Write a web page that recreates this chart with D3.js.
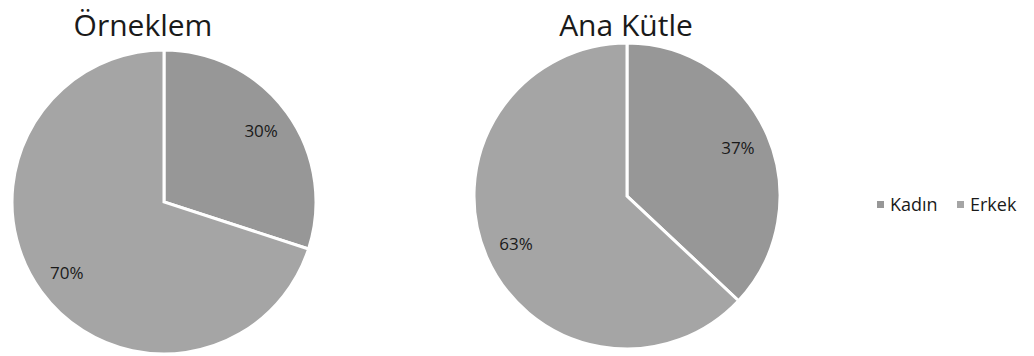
<!DOCTYPE html>
<html>
<head>
    <meta charset="utf-8">
    <style type="text/css">
        body { margin: 0; background: #fff; }
        svg { display: block; }
        text { font-family: "Open Sans", "DejaVu Sans", sans-serif; fill: #1a1a1a; }
        .title { font-size: 30px; text-anchor: middle; }
        .pct { font-size: 17px; text-anchor: middle; }
        .legend text { font-size: 18px; }
    </style>
    <script src="https://d3js.org/d3.v7.min.js"></script>
</head>
<body>
    <svg id="mySvg" width="1034" height="356"></svg>
<script type="text/javascript">
// Data
const categories = ['Kadın', 'Erkek'];
const sampleValues = [30, 70];       // Örneklem
const populationValues = [37, 63];   // Ana Kütle
const pieTitles = ['Örneklem', 'Ana Kütle'];

const svg = d3.select('#mySvg');

const sliceColors = d3.scaleOrdinal()
    .domain(categories)
    .range(['#979797', '#a5a5a5']);

// one entry per pie: center, radius, title x
const pies = [
    { title: pieTitles[0], values: sampleValues, cx: 164, cy: 202, r: 152, tx: 143 },
    { title: pieTitles[1], values: populationValues, cx: 627, cy: 196, r: 153, tx: 626 }
];

const pie = d3.pie().sort(null).value(d => d.value);

pies.forEach(p => {
    const rows = categories.map((c, i) => ({ name: c, value: p.values[i] }));
    const arc = d3.arc().innerRadius(0).outerRadius(p.r);
    const labelArc = d3.arc().innerRadius(p.r * 0.79).outerRadius(p.r * 0.79);
    const total = d3.sum(rows, d => d.value);

    const g = svg.append('g')
        .attr('transform', 'translate(' + p.cx + ',' + p.cy + ')');

    g.selectAll('path')
        .data(pie(rows))
        .enter()
        .append('path')
        .attr('d', arc)
        .attr('fill', d => sliceColors(d.data.name))
        .attr('stroke', '#fff')
        .attr('stroke-width', 3)
        .attr('stroke-linejoin', 'miter');

    g.selectAll('text.pct')
        .data(pie(rows))
        .enter()
        .append('text')
        .attr('class', 'pct')
        .attr('transform', d => 'translate(' + labelArc.centroid(d) + ')')
        .attr('dy', '0.35em')
        .text(d => Math.round(d.data.value / total * 100) + '%');

    svg.append('text')
        .attr('class', 'title')
        .attr('x', p.tx)
        .attr('y', 36)
        .text(p.title);
});

// legend
const legend = svg.append('g')
    .attr('class', 'legend')
    .attr('transform', 'translate(877,205)');

const legendX = [0, 80];
const items = legend.selectAll('g')
    .data(categories)
    .enter()
    .append('g')
    .attr('transform', (d, i) => 'translate(' + legendX[i] + ',0)');

items.append('rect')
    .attr('x', 0)
    .attr('y', -4)
    .attr('width', 7)
    .attr('height', 7)
    .attr('fill', d => sliceColors(d));

items.append('text')
    .attr('x', 13)
    .attr('dy', '0.35em')
    .text(d => d);
</script>
</body>
</html>
